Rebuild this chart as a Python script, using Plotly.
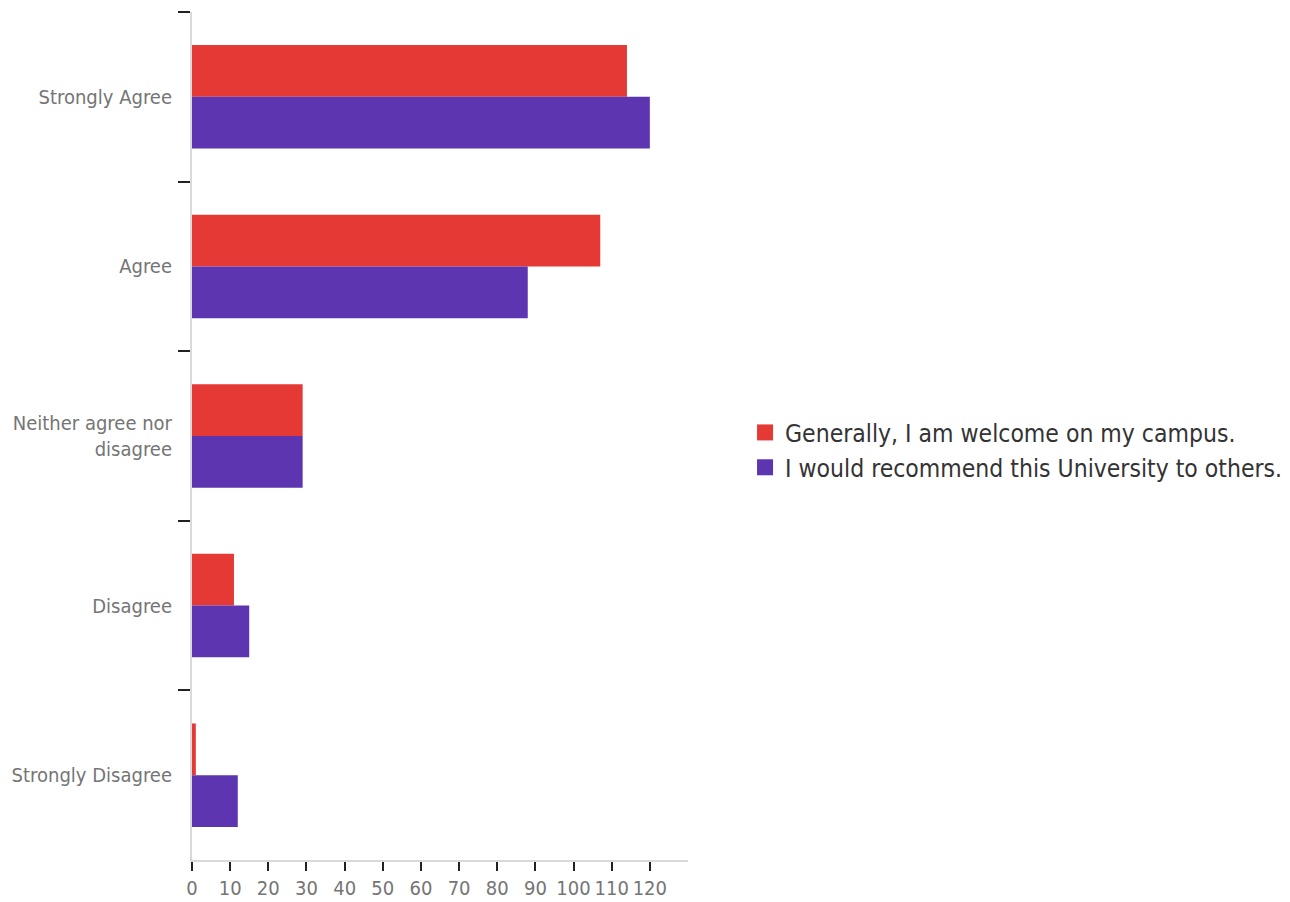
import plotly.graph_objects as go

categories = ["Strongly Agree", "Agree", "Neither agree nor<br>disagree", "Disagree", "Strongly Disagree"]
series_names = ["Generally, I am welcome on my campus.", "I would recommend this University to others."]
welcome = [114, 107, 29, 11, 1]
recommend = [120, 88, 29, 15, 12]
colors = ["#E53935", "#5E35B1"]
x_ticks = list(range(0, 130, 10))

FONT = "Liberation Sans Narrow, DejaVu Sans Condensed, Roboto, sans-serif"

fig = go.Figure()
for name, vals, col in zip(series_names, [welcome, recommend], colors):
    fig.add_trace(go.Bar(
        y=categories, x=vals, name=name, orientation="h",
        marker=dict(color=col, line=dict(width=0)),
        showlegend=False,
    ))
# legend entries with larger square swatches
for name, col in zip(series_names, colors):
    fig.add_trace(go.Scatter(
        x=[None], y=[None], mode="markers", name=name,
        marker=dict(symbol="square", size=20, color=col),
        showlegend=True, hoverinfo="skip",
    ))

fig.update_layout(
    width=1290, height=902,
    barmode="group", bargap=0.39, bargroupgap=0,
    plot_bgcolor="white", paper_bgcolor="white",
    margin=dict(l=184, r=610, t=4, b=50, autoexpand=False),
    font=dict(family=FONT, color="#757575", size=20),
    showlegend=True,
    legend=dict(
        x=1.115, y=0.4835, xanchor="left", yanchor="middle",
        font=dict(size=24.5, color="#333333", family=FONT),
        bgcolor="rgba(0,0,0,0)",
    ),
)
fig.update_xaxes(
    range=[0, 130], tickvals=x_ticks, ticktext=[str(v) for v in x_ticks],
    showgrid=False, zeroline=False, showline=True, linecolor="#d9d9d9", linewidth=2,
    ticks="outside", ticklen=9, tickwidth=2, tickcolor="#222222", tickangle=0,
    tickfont=dict(size=20, color="#757575", family=FONT), automargin=False,
)
fig.update_yaxes(
    autorange="reversed", showgrid=False, zeroline=False,
    showline=True, linecolor="#d9d9d9", linewidth=2,
    ticks="outside", tickson="boundaries", ticklen=12, tickwidth=2, tickcolor="#222222",
    tickfont=dict(size=20, color="#757575", family=FONT), automargin=False,
    ticklabelstandoff=14,
)

fig.write_html("out.html")
